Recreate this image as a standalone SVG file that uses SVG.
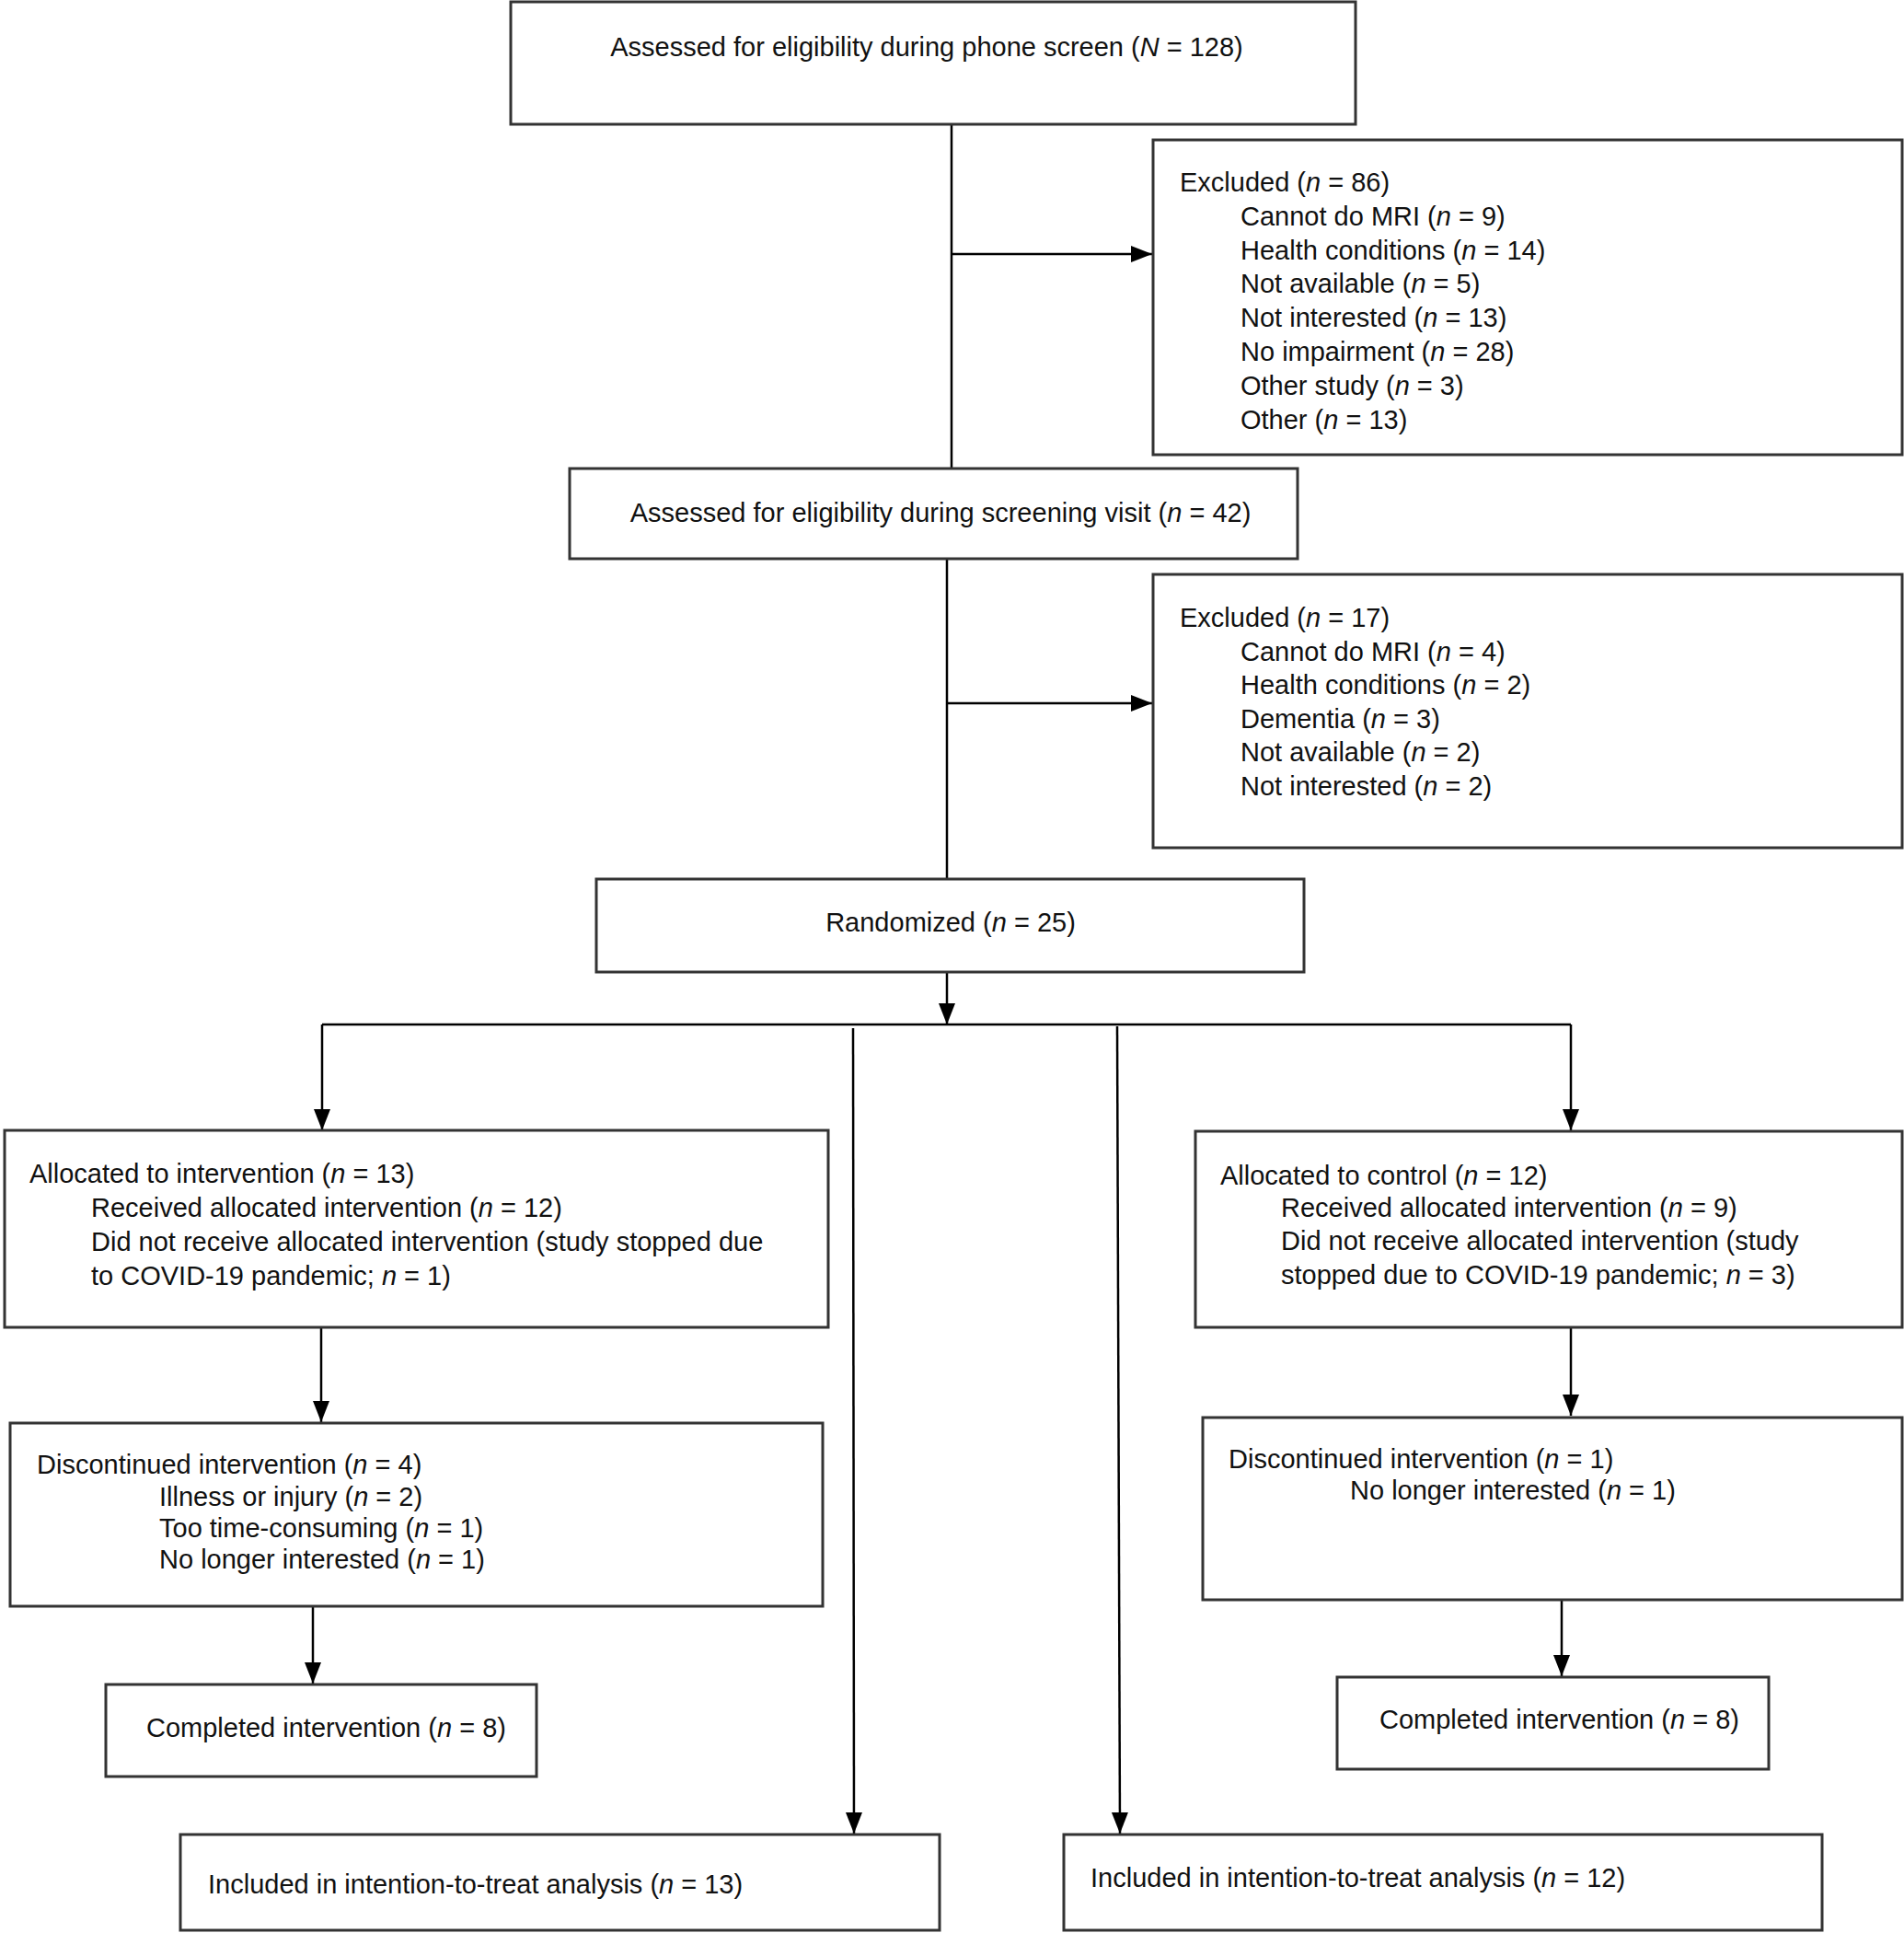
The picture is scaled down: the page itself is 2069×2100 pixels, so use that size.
<svg xmlns="http://www.w3.org/2000/svg" width="2069" height="2100" viewBox="0 0 2069 2100">
<style>
.box{fill:#fff;stroke:#333;stroke-width:3}
.t{font-family:"Liberation Sans",Arial,sans-serif;font-size:29px;fill:#111}
.m{text-anchor:middle}
.i{font-style:italic}
.c{fill:none;stroke:#000;stroke-width:2.5}
</style>
<defs>
<marker id="ah" markerUnits="userSpaceOnUse" markerWidth="24" markerHeight="20" refX="23" refY="9" orient="auto">
<path d="M0,0 L23,9 L0,18 Z" fill="#000"/>
</marker>
</defs>
<rect width="2069" height="2100" fill="#fff"/>
<g id="connectors">
<line class="c" x1="1034" y1="135" x2="1034" y2="509"/>
<line class="c" x1="1034" y1="276" x2="1252" y2="276" marker-end="url(#ah)"/>
<line class="c" x1="1029" y1="607" x2="1029" y2="955"/>
<line class="c" x1="1029" y1="764" x2="1252" y2="764" marker-end="url(#ah)"/>
<line class="c" x1="1029" y1="1056" x2="1029" y2="1113" marker-end="url(#ah)"/>
<line class="c" x1="350" y1="1113" x2="1707" y2="1113"/>
<line class="c" x1="350" y1="1113" x2="350" y2="1228" marker-end="url(#ah)"/>
<line class="c" x1="1707" y1="1113" x2="1707" y2="1228" marker-end="url(#ah)"/>
<line class="c" x1="927" y1="1117" x2="928" y2="1992" marker-end="url(#ah)"/>
<line class="c" x1="1214" y1="1115" x2="1217" y2="1992" marker-end="url(#ah)"/>
<line class="c" x1="349" y1="1442" x2="349" y2="1545" marker-end="url(#ah)"/>
<line class="c" x1="1707" y1="1442" x2="1707" y2="1538" marker-end="url(#ah)"/>
<line class="c" x1="340" y1="1745" x2="340" y2="1829" marker-end="url(#ah)"/>
<line class="c" x1="1697" y1="1738" x2="1697" y2="1821" marker-end="url(#ah)"/>
</g>
<g id="n1">
<rect class="box" x="555" y="2" width="918" height="133"/>
<text class="t m" x="1007" y="61">Assessed for eligibility during phone screen (<tspan class="i">N</tspan> = 128)</text>
</g>
<g id="n2">
<rect class="box" x="1253" y="152" width="814" height="342"/>
<text class="t" x="1282" y="208">Excluded (<tspan class="i">n</tspan> = 86)</text>
<text class="t" x="1348" y="245">Cannot do MRI (<tspan class="i">n</tspan> = 9)</text>
<text class="t" x="1348" y="282">Health conditions (<tspan class="i">n</tspan> = 14)</text>
<text class="t" x="1348" y="318">Not available (<tspan class="i">n</tspan> = 5)</text>
<text class="t" x="1348" y="355">Not interested (<tspan class="i">n</tspan> = 13)</text>
<text class="t" x="1348" y="392">No impairment (<tspan class="i">n</tspan> = 28)</text>
<text class="t" x="1348" y="429">Other study (<tspan class="i">n</tspan> = 3)</text>
<text class="t" x="1348" y="466">Other (<tspan class="i">n</tspan> = 13)</text>
</g>
<g id="n3">
<rect class="box" x="619" y="509" width="791" height="98"/>
<text class="t m" x="1022" y="567">Assessed for eligibility during screening visit (<tspan class="i">n</tspan> = 42)</text>
</g>
<g id="n4">
<rect class="box" x="1253" y="624" width="814" height="297"/>
<text class="t" x="1282" y="681">Excluded (<tspan class="i">n</tspan> = 17)</text>
<text class="t" x="1348" y="718">Cannot do MRI (<tspan class="i">n</tspan> = 4)</text>
<text class="t" x="1348" y="754">Health conditions (<tspan class="i">n</tspan> = 2)</text>
<text class="t" x="1348" y="791">Dementia (<tspan class="i">n</tspan> = 3)</text>
<text class="t" x="1348" y="827">Not available (<tspan class="i">n</tspan> = 2)</text>
<text class="t" x="1348" y="864">Not interested (<tspan class="i">n</tspan> = 2)</text>
</g>
<g id="n5">
<rect class="box" x="648" y="955" width="769" height="101"/>
<text class="t m" x="1033" y="1012">Randomized (<tspan class="i">n</tspan> = 25)</text>
</g>
<g id="n6">
<rect class="box" x="5" y="1228" width="895" height="214"/>
<text class="t" x="32" y="1285">Allocated to intervention (<tspan class="i">n</tspan> = 13)</text>
<text class="t" x="99" y="1322">Received allocated intervention (<tspan class="i">n</tspan> = 12)</text>
<text class="t" x="99" y="1359">Did not receive allocated intervention (study stopped due</text>
<text class="t" x="99" y="1396">to COVID-19 pandemic; <tspan class="i">n</tspan> = 1)</text>
</g>
<g id="n7">
<rect class="box" x="1299" y="1229" width="768" height="213"/>
<text class="t" x="1326" y="1287">Allocated to control (<tspan class="i">n</tspan> = 12)</text>
<text class="t" x="1392" y="1322">Received allocated intervention (<tspan class="i">n</tspan> = 9)</text>
<text class="t" x="1392" y="1358">Did not receive allocated intervention (study</text>
<text class="t" x="1392" y="1395">stopped due to COVID-19 pandemic; <tspan class="i">n</tspan> = 3)</text>
</g>
<g id="n8">
<rect class="box" x="11" y="1546" width="883" height="199"/>
<text class="t" x="40" y="1601">Discontinued intervention (<tspan class="i">n</tspan> = 4)</text>
<text class="t" x="173" y="1636">Illness or injury (<tspan class="i">n</tspan> = 2)</text>
<text class="t" x="173" y="1670">Too time-consuming (<tspan class="i">n</tspan> = 1)</text>
<text class="t" x="173" y="1704">No longer interested (<tspan class="i">n</tspan> = 1)</text>
</g>
<g id="n9">
<rect class="box" x="1307" y="1540" width="760" height="198"/>
<text class="t" x="1335" y="1595">Discontinued intervention (<tspan class="i">n</tspan> = 1)</text>
<text class="t" x="1467" y="1629">No longer interested (<tspan class="i">n</tspan> = 1)</text>
</g>
<g id="n10">
<rect class="box" x="115" y="1830" width="468" height="100"/>
<text class="t" x="159" y="1887">Completed intervention (<tspan class="i">n</tspan> = 8)</text>
</g>
<g id="n11">
<rect class="box" x="1453" y="1822" width="469" height="100"/>
<text class="t" x="1499" y="1878">Completed intervention (<tspan class="i">n</tspan> = 8)</text>
</g>
<g id="n12">
<rect class="box" x="196" y="1993" width="825" height="104"/>
<text class="t" x="226" y="2057">Included in intention-to-treat analysis (<tspan class="i">n</tspan> = 13)</text>
</g>
<g id="n13">
<rect class="box" x="1156" y="1993" width="824" height="104"/>
<text class="t" x="1185" y="2050">Included in intention-to-treat analysis (<tspan class="i">n</tspan> = 12)</text>
</g>
</svg>
